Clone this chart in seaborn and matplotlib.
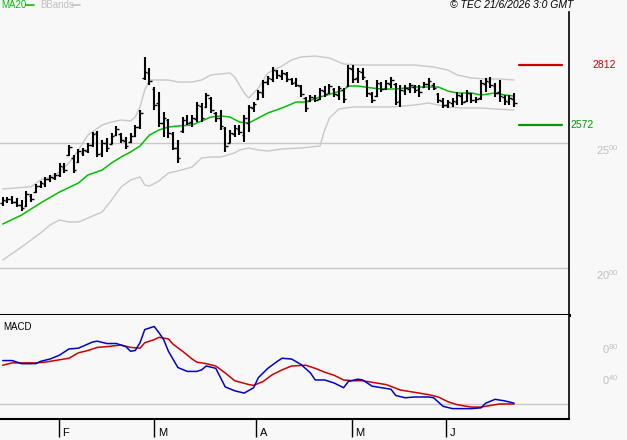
import numpy as np
import matplotlib
matplotlib.use('Agg')
import matplotlib.pyplot as plt
import matplotlib.transforms as mtransforms
from matplotlib.lines import Line2D
import seaborn as sns

# daily OHLC bars (trading day index 0..108)
highs = [2284, 2284, 2288, 2280, 2272, 2308, 2296, 2336, 2348, 2364,
         2372, 2380, 2420, 2420, 2492, 2452, 2476, 2480, 2500, 2544,
         2548, 2512, 2520, 2540, 2568, 2540, 2524, 2540, 2572, 2632,
         2844, 2800, 2724, 2704, 2624, 2596, 2544, 2512, 2604, 2612,
         2612, 2664, 2660, 2700, 2684, 2624, 2632, 2564, 2552, 2572,
         2572, 2612, 2652, 2664, 2712, 2752, 2768, 2804, 2792, 2792,
         2784, 2760, 2760, 2732, 2684, 2692, 2692, 2720, 2728, 2736,
         2720, 2728, 2720, 2812, 2812, 2800, 2800, 2752, 2704, 2752,
         2744, 2752, 2764, 2740, 2732, 2732, 2740, 2732, 2732, 2744,
         2760, 2740, 2700, 2680, 2672, 2680, 2704, 2700, 2712, 2700,
         2684, 2752, 2760, 2764, 2740, 2752, 2692, 2692, 2700]
lows = [2248, 2260, 2256, 2244, 2228, 2244, 2264, 2300, 2320, 2324,
        2344, 2352, 2364, 2380, 2448, 2380, 2420, 2448, 2460, 2484,
        2444, 2444, 2464, 2496, 2528, 2500, 2476, 2500, 2524, 2556,
        2752, 2732, 2632, 2564, 2524, 2520, 2472, 2420, 2540, 2572,
        2564, 2584, 2584, 2640, 2620, 2584, 2552, 2464, 2500, 2524,
        2532, 2504, 2544, 2624, 2672, 2680, 2732, 2744, 2756, 2752,
        2744, 2732, 2724, 2684, 2624, 2664, 2664, 2672, 2684, 2696,
        2684, 2672, 2660, 2724, 2740, 2740, 2752, 2684, 2660, 2684,
        2704, 2712, 2720, 2652, 2644, 2692, 2700, 2700, 2684, 2720,
        2712, 2712, 2660, 2640, 2640, 2644, 2652, 2652, 2664, 2660,
        2660, 2672, 2704, 2720, 2684, 2664, 2652, 2652, 2644]
opens = [2260, 2268, 2276, 2264, 2252, 2248, 2288, 2304, 2328, 2336,
         2356, 2360, 2372, 2404, 2452, 2440, 2424, 2460, 2468, 2492,
         2540, 2460, 2500, 2496, 2532, 2536, 2508, 2504, 2528, 2564,
         2760, 2780, 2716, 2660, 2580, 2592, 2536, 2480, 2548, 2592,
         2584, 2596, 2648, 2644, 2680, 2620, 2600, 2560, 2500, 2536,
         2556, 2532, 2580, 2640, 2676, 2700, 2744, 2756, 2788, 2768,
         2776, 2756, 2744, 2728, 2680, 2668, 2680, 2676, 2708, 2700,
         2716, 2692, 2712, 2728, 2796, 2760, 2784, 2748, 2696, 2688,
         2736, 2720, 2736, 2736, 2668, 2708, 2716, 2724, 2716, 2724,
         2736, 2732, 2696, 2668, 2652, 2660, 2664, 2688, 2668, 2696,
         2672, 2680, 2736, 2744, 2728, 2704, 2684, 2664, 2676]
closes = [2272, 2276, 2264, 2252, 2240, 2296, 2276, 2328, 2340, 2356,
          2364, 2372, 2408, 2392, 2484, 2392, 2468, 2472, 2492, 2536,
          2456, 2500, 2480, 2528, 2556, 2512, 2488, 2528, 2564, 2620,
          2784, 2748, 2652, 2580, 2600, 2540, 2480, 2440, 2592, 2580,
          2600, 2652, 2600, 2692, 2632, 2600, 2568, 2488, 2540, 2560,
          2544, 2600, 2644, 2656, 2704, 2744, 2760, 2792, 2772, 2780,
          2756, 2740, 2732, 2696, 2640, 2684, 2672, 2712, 2696, 2728,
          2696, 2720, 2676, 2800, 2756, 2788, 2764, 2700, 2672, 2740,
          2716, 2740, 2752, 2664, 2712, 2720, 2732, 2712, 2704, 2736,
          2748, 2720, 2672, 2652, 2664, 2668, 2692, 2664, 2700, 2672,
          2676, 2740, 2748, 2732, 2700, 2688, 2668, 2680, 2660]

# indicator lines (day index, value)
ma20_days = [0, 4, 8, 12, 16, 18, 21, 23, 25, 27, 29, 31, 33, 35, 37, 40, 42, 44,
             46, 48, 50, 52, 54, 56, 59, 62, 64, 67, 70, 72, 73, 75, 78, 80, 83,
             87, 92, 94, 96, 99, 101, 104, 106, 108]
ma20 = [2176, 2212, 2260, 2304, 2340, 2372, 2392, 2420, 2444, 2464, 2488, 2532,
        2552, 2564, 2568, 2572, 2588, 2604, 2608, 2604, 2584, 2580, 2600, 2620,
        2640, 2664, 2664, 2684, 2700, 2712, 2728, 2728, 2720, 2716, 2716, 2724,
        2724, 2708, 2700, 2700, 2692, 2700, 2692, 2688]
upper_days = [0, 6, 8, 10, 12, 14, 16, 18, 21, 23, 25, 27, 28, 29, 30, 31, 33, 35,
              37, 40, 42, 44, 48, 49, 51, 52, 54, 56, 59, 61, 63, 66, 69, 72, 75,
              80, 87, 91, 94, 96, 99, 102, 105, 108]
upper = [2316, 2325, 2352, 2364, 2384, 2420, 2472, 2532, 2572, 2584, 2592, 2588,
         2604, 2644, 2712, 2752, 2752, 2752, 2744, 2744, 2752, 2772, 2780, 2764,
         2700, 2680, 2720, 2780, 2808, 2832, 2844, 2848, 2840, 2816, 2812, 2812,
         2812, 2804, 2792, 2772, 2760, 2756, 2756, 2752]
lower_days = [0, 4, 8, 10, 12, 14, 16, 18, 21, 23, 25, 27, 29, 30, 31, 33, 35, 37,
              40, 42, 44, 46, 49, 50, 52, 54, 56, 59, 63, 67, 68, 69, 71, 74, 77,
              82, 87, 90, 94, 97, 101, 104, 108]
lower = [2032, 2084, 2140, 2172, 2192, 2184, 2184, 2200, 2224, 2272, 2324, 2352,
         2364, 2332, 2328, 2348, 2380, 2388, 2404, 2440, 2444, 2444, 2460, 2472,
         2480, 2472, 2468, 2476, 2480, 2488, 2552, 2600, 2636, 2644, 2644, 2644,
         2652, 2660, 2644, 2640, 2640, 2636, 2632]

macd_days = [0, 2, 4, 7, 8, 10, 12, 14, 16, 19, 20, 22, 24, 26, 27, 28, 29, 30, 32,
             33, 34, 35, 37, 39, 41, 42, 43, 45, 46, 47, 49, 51, 53, 54, 56, 58, 59,
             61, 63, 65, 66, 68, 70, 72, 73, 75, 76, 78, 80, 82, 83, 85, 87, 90, 91,
             93, 95, 97, 99, 101, 102, 104, 106, 108]
macd = [0.56, 0.56, 0.52, 0.52, 0.55, 0.58, 0.63, 0.71, 0.72, 0.80, 0.81, 0.78,
        0.78, 0.74, 0.68, 0.69, 0.79, 0.96, 1.00, 0.92, 0.83, 0.68, 0.47, 0.42,
        0.42, 0.44, 0.49, 0.46, 0.34, 0.22, 0.17, 0.14, 0.21, 0.34, 0.46, 0.55,
        0.59, 0.58, 0.51, 0.40, 0.31, 0.31, 0.27, 0.21, 0.29, 0.32, 0.31, 0.23,
        0.21, 0.19, 0.11, 0.08, 0.09, 0.09, 0.08, -0.03, -0.06, -0.06, -0.06,
        -0.05, 0.01, 0.06, 0.04, 0.01]
signal_days = [0, 2, 7, 9, 11, 14, 16, 18, 20, 22, 25, 27, 29, 30, 32, 33, 35, 36,
               38, 40, 41, 43, 45, 47, 49, 52, 53, 55, 57, 59, 61, 64, 66, 68, 70,
               72, 74, 76, 78, 81, 84, 87, 90, 92, 94, 96, 99, 101, 103, 105, 108]
signal = [0.50, 0.53, 0.53, 0.54, 0.56, 0.59, 0.66, 0.69, 0.73, 0.74, 0.76, 0.73,
          0.72, 0.79, 0.83, 0.86, 0.84, 0.77, 0.68, 0.58, 0.54, 0.52, 0.49, 0.40,
          0.30, 0.25, 0.24, 0.29, 0.38, 0.44, 0.49, 0.50, 0.46, 0.41, 0.37, 0.31,
          0.30, 0.30, 0.28, 0.25, 0.18, 0.15, 0.12, 0.09, 0.03, -0.01, -0.04,
          -0.04, -0.02, 0.00, 0.00]

# month starts (day index) and labels
month_pos = [11.9, 32.0, 53.5, 73.8, 93.6]
month_labels = ['F', 'M', 'A', 'M', 'J']

resistance = 2812
support = 2572
price_ticks = [2000, 2500]
price_tick_labels = [r'$\mathregular{20^{00}}$', r'$\mathregular{25^{00}}$']
macd_ticks = [0.40, 0.80]
macd_tick_labels = [r'$\mathregular{0^{40}}$', r'$\mathregular{0^{80}}$']

BG = '#f8f8f8'
GRID = '#c8c8c8'
LABEL_GREY = '#c0c0c0'

sns.set_style('white')
plt.rcParams['font.family'] = ['Liberation Sans', 'DejaVu Sans']
plt.rcParams['axes.facecolor'] = BG
plt.rcParams['figure.facecolor'] = BG

fig = plt.figure(figsize=(6.27, 4.40), dpi=100)
W, H = 627, 440
ax = fig.add_axes([0, 1 - 315 / H, 569 / W, (315 - 12) / H])
axm = fig.add_axes([0, 1 - 419 / H, 569 / W, (419 - 315) / H])

days = np.arange(len(highs))
xlim = (-0.57, 119.6)

# ---- price panel ----
for y in price_ticks:
    ax.axhline(y, color=GRID, lw=1, zorder=1)
sns.lineplot(x=upper_days, y=upper, ax=ax, color=GRID, lw=1, zorder=2)
sns.lineplot(x=lower_days, y=lower, ax=ax, color=GRID, lw=1, zorder=2)
sns.lineplot(x=ma20_days, y=ma20, ax=ax, color='#00c000', lw=1.1, zorder=3)

ax.vlines(days, lows, highs, color='black', lw=1.5, zorder=4)
ax.hlines(opens, days - 0.55, days, color='black', lw=1, zorder=4)
ax.hlines(closes, days, days + 0.55, color='black', lw=1, zorder=4)

ax.axhline(resistance, xmin=519 / 569, xmax=562 / 569, color='#cc0000', lw=1.6)
ax.axhline(support, xmin=519 / 569, xmax=562 / 569, color='#009900', lw=1.6)
blend = mtransforms.blended_transform_factory(ax.transAxes, ax.transData)
ax.text(616 / 569, resistance, str(resistance), transform=blend, color='#cc0000',
        fontsize=7.5, ha='right', va='center')
ax.text(570 / 569, support, str(support), transform=blend, color='#009900',
        fontsize=7.5, ha='left', va='center')

ax.set_xlim(*xlim)
ax.set_ylim(1812, 3024)
ax.set_xticks([])
ax.yaxis.tick_right()
ax.set_yticks(price_ticks)
ax.set_yticklabels(price_tick_labels)
ax.tick_params(axis='y', length=0, pad=36, labelcolor=LABEL_GREY, labelsize=8)
for lbl in ax.get_yticklabels():
    lbl.set_ha('right')
    lbl.set_va('top')
ax.set_xlabel('')
ax.set_ylabel('')
for side in ['top', 'left']:
    ax.spines[side].set_visible(False)
ax.spines['right'].set_color('black')
ax.spines['right'].set_linewidth(1.2)
ax.spines['bottom'].set_color('black')
ax.spines['bottom'].set_linewidth(2.2)

# ---- MACD panel ----
axm.axhline(0, color=GRID, lw=1, zorder=1)
sns.lineplot(x=signal_days, y=signal, ax=axm, color='#cc0000', lw=1.1, zorder=3)
sns.lineplot(x=macd_days, y=macd, ax=axm, color='#0000cc', lw=1.1, zorder=3)
axm.set_xlim(*xlim)
axm.set_ylim(-0.194, 1.148)
axm.yaxis.tick_right()
axm.set_yticks(macd_ticks)
axm.set_yticklabels(macd_tick_labels)
axm.tick_params(axis='y', length=0, pad=36, labelcolor=LABEL_GREY, labelsize=8)
for lbl in axm.get_yticklabels():
    lbl.set_ha('right')
    lbl.set_va('top')
axm.set_xticks(month_pos)
axm.set_xticklabels([])
axm.tick_params(axis='x', direction='out', length=13, width=1, color='black',
                bottom=True)
for pos, lab in zip(month_pos, month_labels):
    axm.annotate(lab, xy=(pos, 0), xycoords=('data', 'axes fraction'),
                 xytext=(2.5, -13.5), textcoords='offset points',
                 ha='left', va='bottom', fontsize=8, color='black')
axm.text(3 / 569, 0.885, 'MACD', transform=axm.transAxes, fontsize=7,
         ha='left', va='center', color='black')
axm.set_xlabel('')
axm.set_ylabel('')
for side in ['top', 'left']:
    axm.spines[side].set_visible(False)
axm.spines['right'].set_color('black')
axm.spines['right'].set_linewidth(1.2)
axm.spines['bottom'].set_color('black')
axm.spines['bottom'].set_linewidth(1.5)

# ---- header texts ----
fig.text(1 / W, 1 - 5.5 / H, 'MA20', color='#00c000', fontsize=7, ha='left', va='center')
fig.add_artist(Line2D([26 / W, 34 / W], [1 - 5 / H, 1 - 5 / H], color='#00c000', lw=1.2))
fig.text(40 / W, 1 - 5.5 / H, 'BBands', color=LABEL_GREY, fontsize=7, ha='left', va='center')
fig.add_artist(Line2D([72 / W, 80 / W], [1 - 5 / H, 1 - 5 / H], color=LABEL_GREY, lw=1.2))
fig.text(573 / W, 1 - 5.5 / H, '\u00a9 TEC 21/6/2026 3:0 GMT', color='black',
         fontsize=7.5, style='italic', ha='right', va='center')

fig.savefig('out.png', dpi=100, facecolor=BG)
